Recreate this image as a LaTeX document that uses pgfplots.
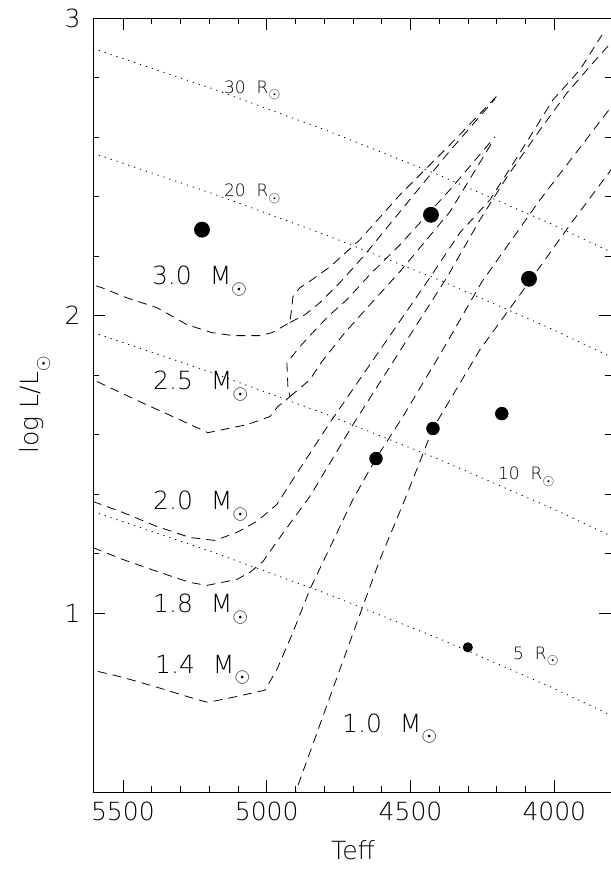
\documentclass[border=0pt]{standalone}
\usepackage{graphicx}
\usepackage{pgfplots}
\pgfplotsset{compat=1.18}
\usepackage{fontspec}
\setmainfont{DejaVu Sans ExtraLight}
\newcommand{\sunM}{\raisebox{-0.39em}{\scalebox{0.8}{$\odot$}}}
\newcommand{\sunR}{\raisebox{-0.33em}{\scalebox{0.88}{$\odot$}}}
\begin{document}
\begin{tikzpicture}
\begin{axis}[
  scale only axis,
  width=518bp, height=774bp,
  x dir=reverse,
  xmin=3803, xmax=5604,
  ymin=0.4, ymax=3,
  axis line style={line width=0.9bp},
  xtick={4000,4500,5000,5500},
  ytick={1,2,3},
  minor x tick num=4,
  minor y tick num=4,
  tick align=inside,
  major tick length=12bp,
  minor tick length=6bp,
  tick style={line width=0.8bp,black},
  xtick pos=both, ytick pos=both,
  xticklabel pos=bottom, yticklabel pos=left,
  /pgf/number format/assume math mode=true,
  /pgf/number format/set thousands separator={},
  ticklabel style={font=\fontsize{25bp}{30bp}\selectfont},
  yticklabel style={xshift=-9bp},
  xticklabel style={yshift=-6bp},
  xlabel={Teff},
  ylabel={log L/L\sunM},
  label style={font=\fontsize{25bp}{30bp}\selectfont},
  xlabel style={at={(axis description cs:0.502,-0.075)},anchor=center},
  ylabel style={at={(axis description cs:-0.112,0.5)},anchor=center},
  every axis plot/.append style={black, line width=0.8bp},
]
% radius lines (dotted)
\addplot[dash pattern=on 1.2bp off 5bp] coordinates {(5604.3,2.898) (5190.6,2.763) (4796.4,2.624) (4402.3,2.473) (4008.2,2.307) (3801.3,2.213)};
\addplot[dash pattern=on 1.2bp off 5bp] coordinates {(5604.3,2.546) (5190.6,2.411) (4796.4,2.272) (4402.3,2.121) (4008.2,1.955) (3801.3,1.861)};
\addplot[dash pattern=on 1.2bp off 5bp] coordinates {(5604.3,1.944) (5190.6,1.809) (4796.4,1.670) (4402.3,1.518) (4008.2,1.353) (3801.3,1.259)};
\addplot[dash pattern=on 1.2bp off 5bp] coordinates {(5604.3,1.342) (5190.6,1.207) (4796.4,1.068) (4402.3,0.916) (4008.2,0.751) (3801.3,0.657)};
% 3.0 Msun
\addplot[dash pattern=on 9bp off 6bp] coordinates {(5593.5,2.100) (5573.0,2.094) (5486.1,2.060) (5381.7,2.027) (5277.5,1.970) (5190.5,1.943) (5117.5,1.933) (5023.6,1.933) (4981.9,1.943) (4919.4,1.977) (4912.4,2.030) (4908.9,2.064) (4884.6,2.094) (4856.8,2.111) (4780.2,2.164) (4675.9,2.255) (4536.9,2.406) (4363.0,2.574) (4199.6,2.738)};
\addplot[dash pattern=on 9bp off 6bp] coordinates {(4919.4,1.977) (4867.1,2.003) (4815.0,2.044) (4745.5,2.111) (4658.6,2.205) (4536.9,2.349) (4363.0,2.554) (4206.5,2.728)};
% 2.5 Msun
\addplot[dash pattern=on 9bp off 6bp] coordinates {(5590.4,1.779) (5440.9,1.711) (5326.2,1.661) (5204.5,1.607) (5068.8,1.634) (4988.9,1.661) (4961.0,1.695) (4919.4,1.728) (4926.4,1.762) (4929.8,1.842) (4884.6,1.896) (4856.8,1.926) (4787.1,1.997) (4721.1,2.054) (4641.2,2.138) (4536.9,2.238) (4363.0,2.423) (4206.5,2.601)};
\addplot[dash pattern=on 9bp off 6bp] coordinates {(4919.4,1.728) (4849.8,1.785) (4808.0,1.846) (4728.1,1.943) (4641.2,2.037) (4536.9,2.148) (4363.0,2.349) (4217.0,2.581)};
% 2.0 Msun
\addplot[dash pattern=on 9bp off 6bp] coordinates {(5604.3,1.376) (5500.0,1.339) (5381.7,1.292) (5267.1,1.255) (5180.1,1.245) (5103.6,1.272) (5034.0,1.309) (4964.5,1.366) (4908.9,1.450) (4780.2,1.641) (4432.5,2.128) (4328.2,2.279) (4223.9,2.389) (4119.6,2.547) (4004.8,2.725) (3911.0,2.826) (3834.5,2.943)};
% 1.8 Msun
\addplot[dash pattern=on 9bp off 6bp] coordinates {(5604.3,1.221) (5500.0,1.181) (5381.7,1.141) (5267.1,1.104) (5207.9,1.094) (5103.6,1.114) (5058.4,1.138) (5013.2,1.174) (4947.1,1.265) (4849.8,1.393) (4700.2,1.634) (4372.0,2.131) (4258.7,2.322) (4164.8,2.466) (4050.1,2.624) (3956.2,2.748) (3865.8,2.849) (3781.6,2.940)};
% 1.4 Msun
\addplot[dash pattern=on 9bp off 6bp] coordinates {(5586.9,0.805) (5500.0,0.785) (5381.7,0.752) (5267.1,0.718) (5204.5,0.701) (5103.6,0.721) (5006.3,0.742) (4964.5,0.812) (4908.9,0.936) (4849.8,1.081) (4780.2,1.221) (4700.2,1.383) (4620.3,1.520) (4526.4,1.661) (4397.9,1.869) (4251.7,2.114) (4050.1,2.389) (3791.4,2.715)};
% 1.0 Msun
\addplot[dash pattern=on 9bp off 6bp] coordinates {(4908.9,0.376) (4898.5,0.403) (4745.5,0.812) (4606.4,1.181) (4519.4,1.383) (4422.1,1.621) (4258.7,1.886) (4084.8,2.117) (3945.7,2.305) (3791.4,2.505)};
% observed stars
\addplot[only marks, mark=*, mark size=7.5bp] coordinates {(5225.0,2.289) (4428.9,2.339) (4088.0,2.124)};
\addplot[only marks, mark=*, mark size=6.3bp] coordinates {(4182.6,1.671) (4422.0,1.621) (4620.0,1.520)};
\addplot[only marks, mark=*, mark size=4.6bp] coordinates {(4300.8,0.886)};
% labels
\begin{scope}[every node/.style={font=\fontsize{25bp}{30bp}\selectfont, inner sep=0pt, anchor=base west}]
\node at (axis cs:5399.4,2.104) {3.0\hspace{0.72em}M\sunM};
\node at (axis cs:5395.4,1.752) {2.5\hspace{0.72em}M\sunM};
\node at (axis cs:5395.4,1.349) {2.0\hspace{0.72em}M\sunM};
\node at (axis cs:5395.4,1.003) {1.8\hspace{0.72em}M\sunM};
\node at (axis cs:5388.5,0.799) {1.4\hspace{0.72em}M\sunM};
\node at (axis cs:4738.3,0.601) {1.0\hspace{0.72em}M\sunM};
\end{scope}
\begin{scope}[every node/.style={font=\fontsize{17bp}{20bp}\selectfont, inner sep=0pt, anchor=base west}]
\node at (axis cs:5149.1,2.748) {30\hspace{0.65em}R\sunR};
\node at (axis cs:5149.1,2.399) {20\hspace{0.65em}R\sunR};
\node at (axis cs:4196.4,1.450) {10\hspace{0.65em}R\sunR};
\node at (axis cs:4144.1,0.846) {5\hspace{0.65em}R\sunR};
\end{scope}
\end{axis}
\pgfresetboundingbox
\path[use as bounding box] ([shift={(-93bp,-91bp)}]current axis.south west) rectangle ([shift={(0bp,18bp)}]current axis.north east);
\end{tikzpicture}
\end{document}
